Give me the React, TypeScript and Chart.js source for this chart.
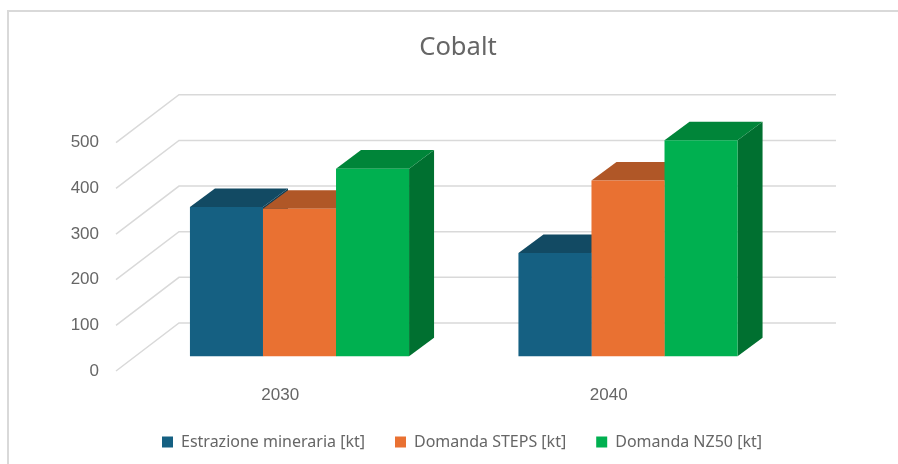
import React, { useEffect, useRef } from "react";
import { Chart, registerables } from "chart.js";

Chart.register(...registerables);

const categories = ["2030", "2040"];
const seriesNames = ["Estrazione mineraria [kt]", "Domanda STEPS [kt]", "Domanda NZ50 [kt]"];
const estrazione = [327, 226];
const domandaSteps = [323, 385];
const domandaNz50 = [411, 473];
const frontColors = ["#156082", "#E97132", "#00B050"];
const topColors = ["#124A63", "#B05727", "#008539"];
const sideColors = ["#0E3E55", "#964A20", "#007030"];
const yTicks = [0, 100, 200, 300, 400, 500];

const TEXT = "#666666";
const GRID = "#D9D9D9";
const WALL = { dx: 63, dy: -48 };
const BAR_SHIFT = { dx: 19.25, dy: -14.7 };
const BAR_DEPTH = { dx: 25, dy: -18.6 };

const poly = (ctx: CanvasRenderingContext2D, pts: number[][], color: string) => {
  ctx.beginPath();
  pts.forEach(([x, y], i) => (i ? ctx.lineTo(x, y) : ctx.moveTo(x, y)));
  ctx.closePath();
  ctx.fillStyle = color;
  ctx.fill();
};

const box3d = {
  id: "box3d",
  afterLayout(chart: any) {
    chart.legend.left = 26;
    chart.legend.right = 898;
    chart.titleBlock.left = 18;
    chart.titleBlock.right = 898;
  },
  beforeDraw(chart: any) {
    const { ctx } = chart;
    ctx.save();
    ctx.strokeStyle = GRID;
    ctx.lineWidth = 2;
    ctx.beginPath();
    ctx.moveTo(8, 464);
    ctx.lineTo(8, 11);
    ctx.lineTo(898, 11);
    ctx.stroke();
    ctx.restore();
  },
  beforeDatasetsDraw(chart: any) {
    const { ctx, chartArea, scales } = chart;
    ctx.save();
    ctx.strokeStyle = GRID;
    ctx.lineWidth = 1.5;
    scales.y.ticks.forEach((t: any) => {
      const y = scales.y.getPixelForValue(t.value);
      ctx.beginPath();
      ctx.moveTo(chartArea.left, y);
      ctx.lineTo(chartArea.left + WALL.dx, y + WALL.dy);
      ctx.lineTo(chartArea.right + WALL.dx, y + WALL.dy);
      ctx.stroke();
    });
    ctx.translate(BAR_SHIFT.dx, BAR_SHIFT.dy);
    chart.data.datasets.forEach((_: any, i: number) => {
      chart.getDatasetMeta(i).data.forEach((bar: any) => {
        const p = bar.getProps(["x", "y", "base", "width"], true);
        const l = p.x - p.width / 2;
        const r = p.x + p.width / 2;
        const { dx, dy } = BAR_DEPTH;
        poly(ctx, [[r, p.y], [r + dx, p.y + dy], [r + dx, p.base + dy], [r, p.base]], sideColors[i]);
        poly(ctx, [[l, p.y], [r, p.y], [r + dx, p.y + dy], [l + dx, p.y + dy]], topColors[i]);
      });
    });
    ctx.restore();
  },
  beforeDatasetDraw(chart: any) {
    chart.ctx.save();
    chart.ctx.translate(BAR_SHIFT.dx, BAR_SHIFT.dy);
  },
  afterDatasetDraw(chart: any) {
    chart.ctx.restore();
  },
};

export default function App() {
  const ref = useRef<HTMLCanvasElement>(null);
  useEffect(() => {
    const series = [estrazione, domandaSteps, domandaNz50];
    const chart = new Chart(ref.current as HTMLCanvasElement, {
      type: "bar",
      data: {
        labels: categories,
        datasets: series.map((data, i) => ({
          label: seriesNames[i],
          data,
          backgroundColor: frontColors[i],
          borderWidth: 0,
          categoryPercentage: 0.667,
          barPercentage: 1,
          clip: false as any,
        })),
      },
      options: {
        responsive: false,
        animation: false,
        layout: { padding: { left: 0, right: 125, top: 0, bottom: 4 } },
        plugins: {
          title: {
            display: true,
            text: "Cobalt",
            color: TEXT,
            font: { family: "'Noto Sans'", size: 25.6, weight: "normal" },
            padding: { top: 32, bottom: 80 },
          },
          legend: {
            position: "bottom",
            labels: {
              color: TEXT,
              font: { family: "'Noto Sans'", size: 16 },
              boxWidth: 11,
              boxHeight: 11,
              padding: 30,
            },
          },
          tooltip: { enabled: false },
        },
        scales: {
          x: {
            afterFit: (s: any) => { s.height = 33; },
            grid: { display: false },
            border: { display: false },
            ticks: { color: TEXT, font: { family: "'Liberation Sans'", size: 17 }, padding: 6.2 },
          },
          y: {
            min: 0,
            max: 500,
            afterFit: (s: any) => { s.width = 116; },
            afterBuildTicks: (s: any) => { s.ticks = yTicks.map((value) => ({ value })); },
            grid: { display: false, drawTicks: false },
            border: { display: false },
            ticks: { color: TEXT, font: { family: "'Liberation Sans'", size: 17 }, padding: 17 },
          },
        },
      },
      plugins: [box3d],
    } as any);
    return () => chart.destroy();
  }, []);
  return <canvas ref={ref} width={898} height={464} style={{ position: "fixed", left: 0, top: 0, display: "block" }} />;
}
